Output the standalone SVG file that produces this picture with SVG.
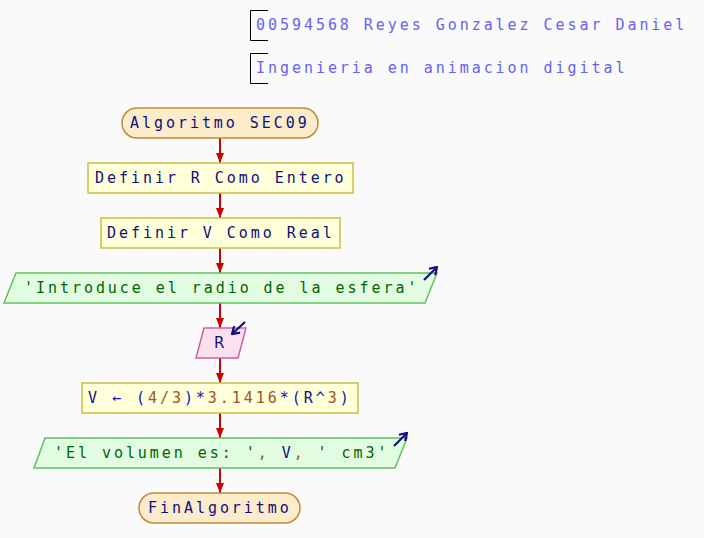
<svg xmlns="http://www.w3.org/2000/svg" width="704" height="538" viewBox="0 0 704 538">
<defs>
<style>
text{font-family:"DejaVu Sans Mono","Liberation Mono",monospace;font-size:15px;letter-spacing:2.95px}
.hdr{fill:#6464f0}
.br{fill:none;stroke:#000;stroke-width:1}
.t{fill:#10107a}
.num{fill:#a0522d}
.op{fill:#1010c0}
.str{fill:#006400}
.term{fill:#fdeccc;stroke:#c0893a;stroke-width:1.5}
.proc{fill:#ffffda;stroke:#c8c040;stroke-width:1.5}
.out{fill:#e2fce2;stroke:#60c060;stroke-width:1.5}
.in{fill:#fde0ee;stroke:#d0609a;stroke-width:1.5}
.conn line{stroke:#cc0000;stroke-width:2}
.ico{stroke:#10107a;stroke-width:2.2;fill:none}
</style>
<marker id="ah" viewBox="0 0 10 8" refX="10" refY="4" markerWidth="10" markerHeight="8" markerUnits="userSpaceOnUse" orient="auto">
<path d="M0,0 L10,4 L0,8 z" fill="#cc0000"/>
</marker>
<marker id="ih" viewBox="0 0 9 10" refX="8" refY="5" markerWidth="9" markerHeight="10" markerUnits="userSpaceOnUse" orient="auto">
<path d="M1,0.5 L8,5 L1,9.5" fill="none" stroke="#10107a" stroke-width="2.2"/>
</marker>
</defs>
<rect width="704" height="538" fill="#fafafa"/>

<g id="header1">
<path class="br" d="M268,10.5 H250.5 V40.5 H268"/>
<text class="hdr" x="256" y="30">00594568 Reyes Gonzalez Cesar Daniel</text>
</g>
<g id="header2">
<path class="br" d="M268,53.5 H250.5 V83.5 H268"/>
<text class="hdr" x="256" y="73">Ingenieria en animacion digital</text>
</g>

<g class="conn" id="connectors">
<line x1="220" y1="138" x2="220" y2="163" marker-end="url(#ah)"/>
<line x1="220" y1="193" x2="220" y2="218" marker-end="url(#ah)"/>
<line x1="220" y1="248" x2="220" y2="273" marker-end="url(#ah)"/>
<line x1="220" y1="303" x2="220" y2="328" marker-end="url(#ah)"/>
<line x1="220" y1="358" x2="220" y2="383" marker-end="url(#ah)"/>
<line x1="220" y1="413" x2="220" y2="438" marker-end="url(#ah)"/>
<line x1="220" y1="468" x2="220" y2="493" marker-end="url(#ah)"/>
</g>

<g id="start">
<rect class="term" x="122" y="108" width="196" height="30" rx="15"/>
<text class="t" x="130" y="128">Algoritmo SEC09</text>
</g>
<g id="defR">
<rect class="proc" x="88" y="163" width="265" height="30"/>
<text class="t" x="95" y="183">Definir R Como Entero</text>
</g>
<g id="defV">
<rect class="proc" x="101" y="218" width="239" height="30"/>
<text class="t" x="107" y="238">Definir V Como Real</text>
</g>
<g id="out1">
<polygon class="out" points="16,273 437,273 425,303 4,303"/>
<text class="str" x="24" y="293">'Introduce el radio de la esfera'</text>
<line class="ico" x1="424" y1="280" x2="437" y2="267" marker-end="url(#ih)"/>
</g>
<g id="inR">
<polygon class="in" points="204,328 246,328 238,358 196,358"/>
<text class="t" x="214" y="348" style="font-family:'DejaVu Sans',sans-serif;letter-spacing:0">R</text>
<line class="ico" x1="245" y1="322" x2="232" y2="334" marker-end="url(#ih)"/>
</g>
<g id="assign">
<rect class="proc" x="82" y="383" width="276" height="30"/>
<text x="88" y="403"><tspan class="t">V</tspan><tspan class="op"> ← (</tspan><tspan class="num">4/3</tspan><tspan class="op">)*</tspan><tspan class="num">3.1416</tspan><tspan class="op">*(</tspan><tspan class="t">R</tspan><tspan class="op">^</tspan><tspan class="num">3</tspan><tspan class="op">)</tspan></text>
</g>
<g id="out2">
<polygon class="out" points="45,438 407,438 395,468 34,468"/>
<text x="54" y="458"><tspan class="str">'El volumen es: '</tspan><tspan class="num">, </tspan><tspan class="t">V</tspan><tspan class="num">, </tspan><tspan class="str">' cm3'</tspan></text>
<line class="ico" x1="394" y1="446" x2="407" y2="433" marker-end="url(#ih)"/>
</g>
<g id="end">
<rect class="term" x="139" y="493" width="161" height="30" rx="15"/>
<text class="t" x="148" y="513">FinAlgoritmo</text>
</g>
</svg>
